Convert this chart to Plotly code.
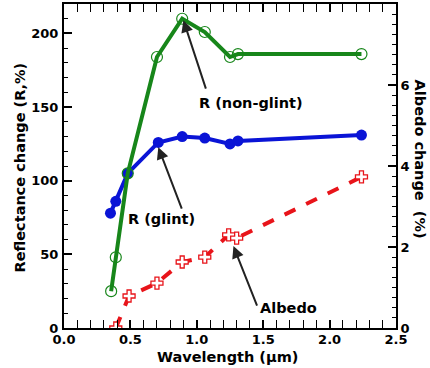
import plotly.graph_objects as go

# Data
wl_ng = [0.355, 0.39, 0.48, 0.70, 0.89, 1.06, 1.25, 1.31, 2.24]
r_nonglint = [25, 48, 105, 184, 210, 201, 184, 186, 186]

wl_g = [0.35, 0.39, 0.48, 0.71, 0.89, 1.06, 1.25, 1.31, 2.24]
r_glint = [78, 86, 105, 126, 130, 129, 125, 127, 131]

wl_a = [0.39, 0.49, 0.70, 0.89, 1.06, 1.24, 1.30, 2.24]
albedo = [0.0, 0.79, 1.11, 1.63, 1.75, 2.30, 2.22, 3.73]

FONT = "DejaVu Sans"
GREEN = "#17861a"
BLUE = "#0a14d6"
RED = "#e8141a"

fig = go.Figure()
fig.add_trace(go.Scatter(x=wl_g, y=r_glint, mode="lines+markers",
                         line=dict(color=BLUE, width=4),
                         marker=dict(symbol="circle", size=11, color=BLUE),
                         showlegend=False))
fig.add_trace(go.Scatter(x=wl_ng, y=r_nonglint, mode="lines+markers",
                         line=dict(color=GREEN, width=4),
                         marker=dict(symbol="circle-open", size=11, color=GREEN, line=dict(width=1.2)),
                         showlegend=False))
fig.add_trace(go.Scatter(x=wl_a, y=albedo, mode="lines+markers", yaxis="y2",
                         line=dict(color=RED, width=4, dash="dash"),
                         marker=dict(symbol="cross", size=10, color="white", line=dict(color=RED, width=1.3)),
                         showlegend=False))

tickfont = dict(family=FONT, size=13, color="black", weight=700)

fig.update_layout(
    width=430, height=368,
    margin=dict(l=64, r=34, t=4, b=40, autoexpand=False),
    paper_bgcolor="white", plot_bgcolor="white",
    xaxis=dict(range=[0, 2.5], dtick=0.5, tick0=0, tickformat=".1f", automargin=False,
               ticks="inside", ticklen=8, tickwidth=1.5, tickcolor="black",
               minor=dict(dtick=0.1, ticks="inside", ticklen=4, tickcolor="black", tickwidth=1.2),
               showline=True, linecolor="black", linewidth=2, mirror="allticks",
               showgrid=False, zeroline=False, tickfont=tickfont, ticklabelstandoff=-2),
    yaxis=dict(range=[0, 220], dtick=50, tick0=0, automargin=False,
               ticks="inside", ticklen=8, tickwidth=1.5, tickcolor="black",
               minor=dict(dtick=10, ticks="inside", ticklen=4, tickcolor="black", tickwidth=1.2),
               showline=True, linecolor="black", linewidth=2,
               showgrid=False, zeroline=False, tickfont=tickfont, ticklabelstandoff=1),
    yaxis2=dict(range=[0, 8], dtick=2, tick0=0, overlaying="y", side="right", automargin=False,
                ticks="inside", ticklen=8, tickwidth=1.5, tickcolor="black",
                minor=dict(dtick=0.25, ticks="inside", ticklen=4, tickcolor="black", tickwidth=1.2),
                showline=True, linecolor="black", linewidth=2,
                showgrid=False, zeroline=False, tickfont=tickfont, ticklabelstandoff=0),
)

tfont = dict(family=FONT, size=14.5, color="black", weight=700)
vfont = dict(family=FONT, size=14.5, color="black", weight=700)
# axis titles
fig.add_annotation(text="Albedo change  (%)", xref="paper", yref="paper", x=1.075, y=0.52,
                   textangle=90, showarrow=False, font=vfont, xanchor="center", yanchor="middle")
fig.add_annotation(text="Reflectance change (R,%)", xref="paper", yref="paper", x=-0.133, y=0.495,
                   textangle=-90, showarrow=False, font=vfont, xanchor="center", yanchor="middle")
fig.add_annotation(text="Wavelength (μm)", xref="paper", yref="paper", x=0.4925, y=-0.0895,
                   showarrow=False, font=tfont, xanchor="center", yanchor="middle")

# labels
fig.add_annotation(text="R (non-glint)", x=1.405, y=152.6, showarrow=False, font=tfont)
fig.add_annotation(text="R (glint)", x=0.733, y=74, showarrow=False, font=tfont)
fig.add_annotation(text="Albedo", x=1.69, y=13.6, showarrow=False, font=tfont)

# arrows
arrows = [((0.899, 209), (1.072, 161.5)),
          ((0.71, 122.8), (0.891, 80)),
          ((1.276, 55.6), (1.458, 14.2))]
for (hx, hy), (tx, ty) in arrows:
    fig.add_annotation(text="", x=hx, y=hy, ax=tx, ay=ty, axref="x", ayref="y",
                       showarrow=True, arrowhead=2, arrowsize=1.2, arrowwidth=2,
                       arrowcolor="#222222")

fig.write_html("out.html", config={"displayModeBar": False},
               post_script="document.body.style.margin='0';")
